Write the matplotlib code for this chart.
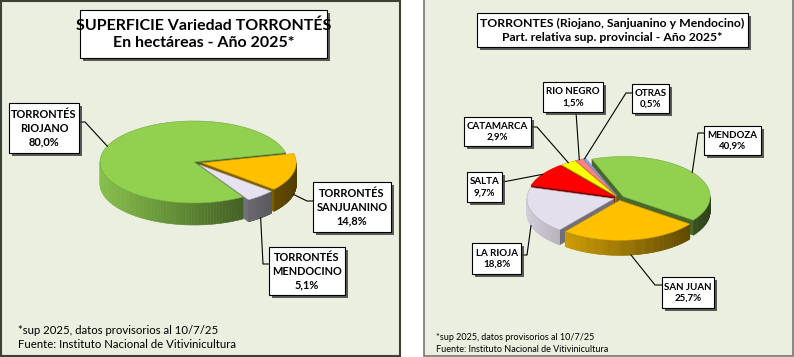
import numpy as np
import matplotlib.pyplot as plt
from matplotlib.patches import Polygon, Rectangle
from matplotlib.colors import to_rgb

# ---- left chart: superficie por variedad ----
var_names = ['TORRONTÉS\nRIOJANO', 'TORRONTÉS\nSANJUANINO', 'TORRONTÉS\nMENDOCINO']
var_pct = [80.0, 14.8, 5.1]
var_colors = ['#92d050', '#ffc000', '#e6e2f0']

# ---- right chart: participación provincial ----
prov_names = ['MENDOZA', 'SAN JUAN', 'LA RIOJA', 'SALTA', 'CATAMARCA', 'RIO NEGRO', 'OTRAS']
prov_pct = [40.9, 25.7, 18.8, 9.7, 2.9, 1.5, 0.5]
prov_colors = ['#92d050', '#ffc000', '#e4dfec', '#ff0000', '#ffff00', '#ff8585', '#8eaaf0']

BG = '#ebefdf'
FONT = 'Lato'


def pct(v):
    return f'{v:.1f}'.replace('.', ',') + '%'


def pie3d(ax, values, colors, cx, cy, rx, ry, depth, start, explode):
    fr = np.array(values) / np.sum(values)
    ends = start - 360 * np.cumsum(fr)
    starts = np.concatenate([[start], ends[:-1]])
    walls, tops, geo = [], [], []
    for a0, a1, col, ex in zip(starts, ends, colors, explode):
        am = np.radians((a0 + a1) / 2)
        ox = cx + ex * rx * np.cos(am)
        oy = cy - ex * ry * np.sin(am)
        geo.append((ox, oy, am))
        t = np.radians(np.linspace(a1, a0, 150))
        px = ox + rx * np.cos(t)
        py = oy - ry * np.sin(t)
        rgb = np.array(to_rgb(col))
        for i in range(len(t) - 1):
            tm = (t[i] + t[i + 1]) / 2
            if np.sin(tm) < 0:
                f = 0.62 - 0.3 * np.cos(tm)
                quad = [(px[i], py[i]), (px[i + 1], py[i + 1]),
                        (px[i + 1], py[i + 1] + depth), (px[i], py[i] + depth)]
                walls.append((max(py[i], py[i + 1]), quad, np.clip(rgb * f, 0, 1)))
        # cut faces, only those facing the viewer
        for a, sgn in ((a0, 1), (a1, -1)):
            ar = np.radians(a)
            if sgn * np.cos(ar) < 0:
                ex_, ey_ = ox + rx * np.cos(ar), oy - ry * np.sin(ar)
                quad = [(ox, oy), (ex_, ey_), (ex_, ey_ + depth), (ox, oy + depth)]
                walls.append(((oy + ey_) / 2, quad, rgb * 0.5))
        tops.append((np.column_stack([np.r_[ox, px], np.r_[oy, py]]), rgb))
    walls.sort(key=lambda w: w[0])
    for _, quad, c in walls:
        ax.add_patch(Polygon(quad, closed=True, fc=c, ec=c, lw=0.4))
    for poly, c in tops:
        ax.add_patch(Polygon(poly, closed=True, fc=c, ec=c * 0.8, lw=0.4))
    return geo


def anchor(g, rx, ry, depth, drop):
    ox, oy, am = g
    return ox + rx * np.cos(am), oy - ry * np.sin(am) + drop * depth


def label_box(ax, box, text, size, weight='bold'):
    x0, y0, x1, y1 = box
    ax.add_patch(Rectangle((x0 + 3, y0 + 3), x1 - x0, y1 - y0, fc='#404040',
                           ec='none', alpha=0.85, zorder=5))
    ax.add_patch(Rectangle((x0, y0), x1 - x0, y1 - y0, fc='white',
                           ec='black', lw=0.8, zorder=6))
    ax.text((x0 + x1) / 2, (y0 + y1) / 2 + 0.5, text, ha='center', va='center',
            fontsize=size, fontweight=weight, family=FONT, zorder=7,
            linespacing=1.3)


def leader(ax, start, elbow, end):
    pts = [start] + ([elbow] if elbow else []) + [end]
    xs, ys = zip(*pts)
    ax.plot(xs, ys, color='black', lw=0.8, zorder=4)


fig = plt.figure(figsize=(7.94, 3.57), dpi=100)
ax = fig.add_axes([0, 0, 1, 1])
ax.set_xlim(0, 794)
ax.set_ylim(357, 0)
ax.axis('off')

# panels
ax.add_patch(Rectangle((0.7, 0.7), 399.3, 355.6, fc=BG, ec='#3b4234', lw=1.5))
ax.add_patch(Rectangle((424, -2), 369, 357.5, fc=BG, ec='#747872', lw=1.2))

# ---- left pie ----
L = dict(cx=194, cy=162, rx=94, ry=41, depth=22)
geo = pie3d(ax, var_pct, var_colors, L['cx'], L['cy'], L['rx'], L['ry'],
            L['depth'], start=-58.6, explode=[0.0, 0.09, 0.09])

label_box(ax, (80, 10, 327, 58),
          'SUPERFICIE Variedad TORRONTÉS\nEn hectáreas - Año 2025*', 11.5)

left_layout = [
    # box, attach point, elbow, drop on pie
    ((9, 103, 79, 153), (79, 122), (85, 122), 0.0),
    ((313, 182, 391, 232), (313, 201), (307, 201), 1.0),
    ((269, 247, 345, 295), (269, 264), (263, 264), 1.0),
]
for name, v, g, (box, att, elb, drop) in zip(var_names, var_pct, geo, left_layout):
    leader(ax, att, elb, anchor(g, L['rx'], L['ry'], L['depth'], drop))
    label_box(ax, box, f'{name}\n{pct(v)}', 7.9)

ax.text(18, 331, '*sup 2025, datos provisorios al 10/7/25', fontsize=8.2,
        family=FONT, va='center')
ax.text(18, 345, 'Fuente: Instituto Nacional de Vitivinicultura', fontsize=8.2,
        family=FONT, va='center')

# ---- right pie ----
R = dict(cx=619, cy=198, rx=87, ry=40, depth=15)
geo = pie3d(ax, prov_pct, prov_colors, R['cx'], R['cy'], R['rx'], R['ry'],
            R['depth'], start=111, explode=[0.06] * 7)

label_box(ax, (477, 13, 748, 47),
          'TORRONTES (Riojano, Sanjuanino y Mendocino)\n'
          'Part. relativa sup. provincial - Año 2025*', 8.8)

right_layout = [
    ((704, 126, 761, 155), (704, 133), (698, 133), 0.0),
    ((662, 277, 714, 308), (662, 285), (655, 285), 1.0),
    ((472, 243, 521, 274), (521, 255), (527, 255), 1.0),
    ((467, 172, 502, 202), (502, 182), (508, 181), 0.0),
    ((464, 117, 531, 146), (531, 127), (537, 127), 0.0),
    ((543, 82, 603, 112), (576, 112), None, 0.0),
    ((632, 84, 669, 113), (632, 93), (626, 93), 0.0),
]
for name, v, g, (box, att, elb, drop) in zip(prov_names, prov_pct, geo, right_layout):
    leader(ax, att, elb, anchor(g, R['rx'], R['ry'], R['depth'], drop))
    label_box(ax, box, f'{name}\n{pct(v)}', 7.0)

ax.text(436, 337, '*sup 2025, datos provisorios al 10/7/25', fontsize=6.5,
        family=FONT, va='center')
ax.text(436, 349, 'Fuente: Instituto Nacional de Vitivinicultura', fontsize=6.5,
        family=FONT, va='center')

fig.savefig('out.png', dpi=100, facecolor='white')
